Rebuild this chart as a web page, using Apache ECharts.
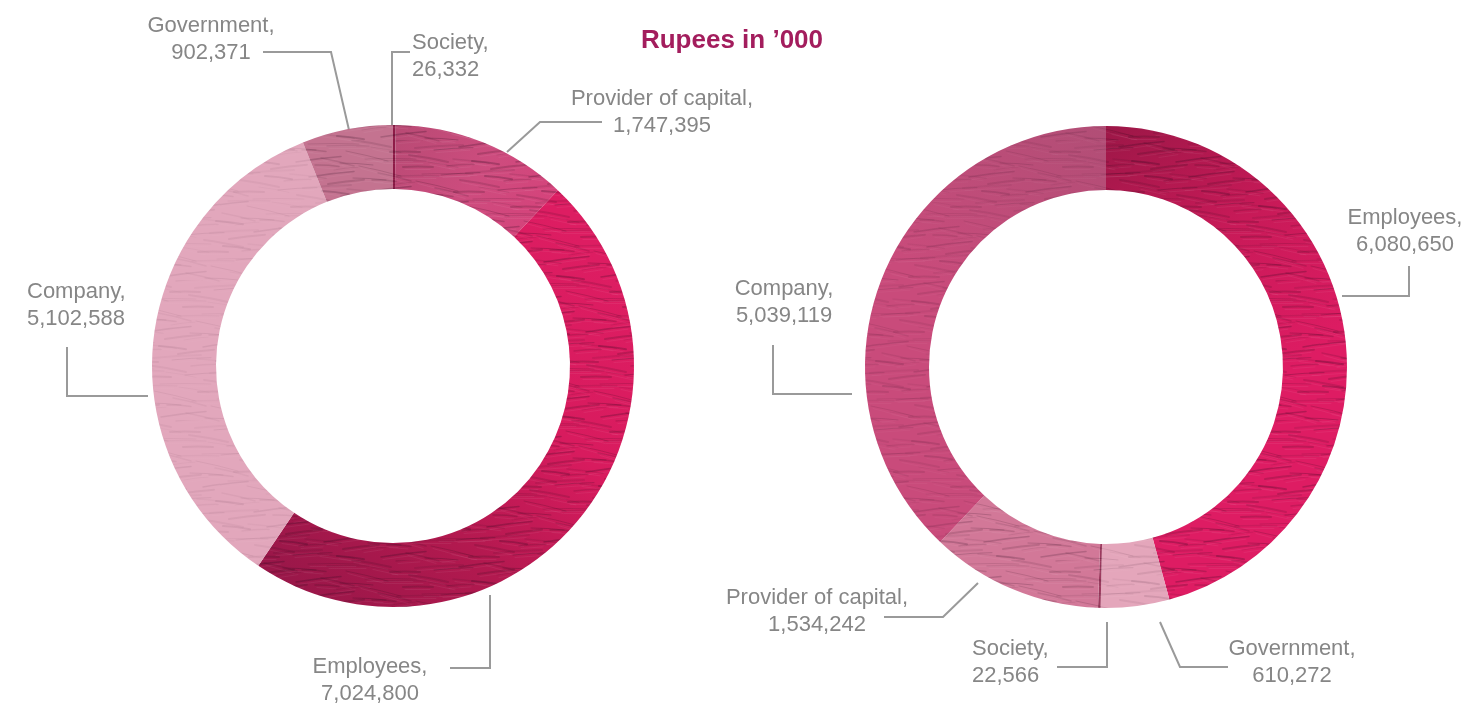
<!DOCTYPE html>
<html>
<head>
<meta charset="utf-8">
<title>Value distribution</title>
<script src="https://cdn.jsdelivr.net/npm/echarts@6/dist/echarts.min.js"></script>
<style>
  html, body { margin: 0; padding: 0; background: #ffffff; }
  #chart { width: 1483px; height: 705px; }
</style>
</head>
<body>
<div id="chart"></div>
<script>
// ---- data (Rupees in '000) ----
const titleText = 'Rupees in \u2019000';

const leftNames  = ['Society', 'Provider of capital', 'Employees', 'Company', 'Government'];
const leftValues = [26332, 1747395, 7024800, 5102588, 902371];

const rightNames  = ['Employees', 'Government', 'Society', 'Provider of capital', 'Company'];
const rightValues = [6080650, 610272, 22566, 1534242, 5039119];

// ---- styling ----
const LG = (x1, y1, x2, y2, stops) =>
  new echarts.graphic.LinearGradient(x1, y1, x2, y2,
    stops.map((c, i) => ({ offset: i / (stops.length - 1), color: c })));

const leftColors = {
  'Society': '#8e1c48',
  'Provider of capital': LG(0, 0, 1, 1, ['#b84a74', '#cd4c7e', '#d8407a']),
  'Employees': LG(1, 0.25, 0.15, 1, ['#dd1d62', '#d81b5e', '#b2194f', '#9a1749']),
  'Company': '#e2a7bc',
  'Government': '#c47390'
};
const rightColors = {
  'Employees': LG(0, 0, 0.65, 0.55, ['#9c1747', '#c81a58', '#de1c63']),
  'Government': '#e4a6bb',
  'Society': '#9c3a5e',
  'Provider of capital': '#d27898',
  'Company': LG(1, 0, 0.45, 0.45, ['#b14e76', '#c94b7b'])
};

// how strongly the yarn texture shows on each slice
const leftTexture  = { 'Society': 1, 'Provider of capital': 1, 'Employees': 1, 'Company': 0.3, 'Government': 0.8 };
const rightTexture = { 'Employees': 1, 'Government': 0.45, 'Society': 1, 'Provider of capital': 0.8, 'Company': 0.55 };

// label placement and leader-line routing for each slice
const leftPlacement = {
  'Society':             { x: 412, y: 56,  align: 'left',   line: [[392, 126], [392, 52], [410, 52]] },
  'Provider of capital': { x: 662, y: 112, align: 'center', line: [[507, 152], [540, 122], [602, 122]] },
  'Employees':           { x: 370, y: 680, align: 'center', line: [[490, 595], [490, 668], [450, 668]] },
  'Company':             { x: 27,  y: 305, align: 'left',   line: [[148, 396], [67, 396], [67, 347]] },
  'Government':          { x: 211, y: 39,  align: 'center', line: [[349, 130], [331, 52], [263, 52]] }
};
const rightPlacement = {
  'Employees':           { x: 1405, y: 231, align: 'center', line: [[1342, 296], [1409, 296], [1409, 266]] },
  'Government':          { x: 1292, y: 662, align: 'center', line: [[1160, 622], [1180, 667], [1228, 667]] },
  'Society':             { x: 972,  y: 662, align: 'left',   line: [[1107, 622], [1107, 667], [1057, 667]] },
  'Provider of capital': { x: 817,  y: 611, align: 'center', line: [[978, 583], [943, 617], [884, 617]] },
  'Company':             { x: 784,  y: 302, align: 'center', line: [[852, 394], [773, 394], [773, 345]] }
};

const FONT = '"Liberation Sans", Arial, Helvetica, sans-serif';

// yarn-like streak texture laid over the rings (tileable)
function makeThreadPattern() {
  const W = 220, H = 140;
  const cv = document.createElement('canvas');
  cv.width = W; cv.height = H;
  const ctx = cv.getContext('2d');
  ctx.lineCap = 'round';
  ctx.filter = 'blur(0.7px)';
  for (let r = 0; r < 28; r++) {
    for (let c = 0; c < 5; c++) {
      const k = (r * 7 + c * 13) % 17;
      const x0 = c * 44 + (r * 19) % 44;
      const y0 = r * 5 + (k % 5);
      const len = 24 + (k * 3) % 30;
      const slope = ((k % 7) - 2) * 0.06;
      const alpha = 0.10 + (k % 4) * 0.045;
      const lw = 1 + (k % 3) * 0.5;
      for (const ox of [0, -W]) {
        for (const oy of [0, -H]) {
          const xa = x0 + ox, ya = y0 + oy;
          ctx.strokeStyle = 'rgba(40,8,28,' + alpha.toFixed(3) + ')';
          ctx.lineWidth = lw;
          ctx.beginPath();
          ctx.moveTo(xa, ya);
          ctx.quadraticCurveTo(xa + len / 2, ya + slope * len / 2 - 1, xa + len, ya + slope * len);
          ctx.stroke();
          ctx.strokeStyle = 'rgba(255,255,255,0.06)';
          ctx.lineWidth = 1;
          ctx.beginPath();
          ctx.moveTo(xa + 2, ya + 2.5);
          ctx.lineTo(xa + len - 3, ya + slope * len + 2.5);
          ctx.stroke();
        }
      }
    }
  }
  return cv;
}
const threadPattern = { image: makeThreadPattern(), repeat: 'repeat' };

const fmt = v => v.toLocaleString('en-US');

function ringData(names, values, colors) {
  return names.map((n, i) => ({ name: n, value: values[i], itemStyle: { color: colors[n] } }));
}

function ringSeries(names, values, colors, placement, center) {
  return {
    type: 'pie',
    center: center,
    radius: [177, 241],
    startAngle: 90,
    clockwise: true,
    avoidLabelOverlap: false,
    silent: true,
    itemStyle: { borderWidth: 0 },
    label: {
      show: true,
      position: 'outside',
      formatter: p => p.name + ',\n' + fmt(p.value),
      fontFamily: FONT,
      fontSize: 22,
      lineHeight: 27,
      color: '#868686'
    },
    labelLine: {
      show: true,
      length: 10,
      length2: 10,
      smooth: false,
      lineStyle: { color: '#9a9a9a', width: 2 }
    },
    labelLayout: function (params) {
      const pl = placement[names[params.dataIndex]];
      return {
        x: pl.x,
        y: pl.y,
        align: pl.align,
        verticalAlign: 'middle',
        labelLinePoints: pl.line
      };
    },
    data: ringData(names, values, colors)
  };
}

function textureSeries(names, values, strength, center) {
  return {
    type: 'pie',
    center: center,
    radius: [177, 241],
    startAngle: 90,
    clockwise: true,
    silent: true,
    label: { show: false },
    labelLine: { show: false },
    itemStyle: { color: threadPattern, borderWidth: 0 },
    data: names.map((n, i) => ({
      name: n,
      value: values[i],
      itemStyle: { opacity: strength[n] }
    }))
  };
}

const chart = echarts.init(document.getElementById('chart'), null, { renderer: 'canvas' });
chart.setOption({
  animation: false,
  backgroundColor: '#ffffff',
  graphic: [{
    type: 'text',
    x: 732,
    y: 41,
    style: {
      text: titleText,
      fill: '#a31d5d',
      font: 'bold 26px ' + FONT,
      align: 'center',
      verticalAlign: 'middle'
    }
  }],
  series: [
    ringSeries(leftNames, leftValues, leftColors, leftPlacement, [393, 366]),
    ringSeries(rightNames, rightValues, rightColors, rightPlacement, [1106, 367]),
    textureSeries(leftNames, leftValues, leftTexture, [393, 366]),
    textureSeries(rightNames, rightValues, rightTexture, [1106, 367])
  ]
});
</script>
</body>
</html>
